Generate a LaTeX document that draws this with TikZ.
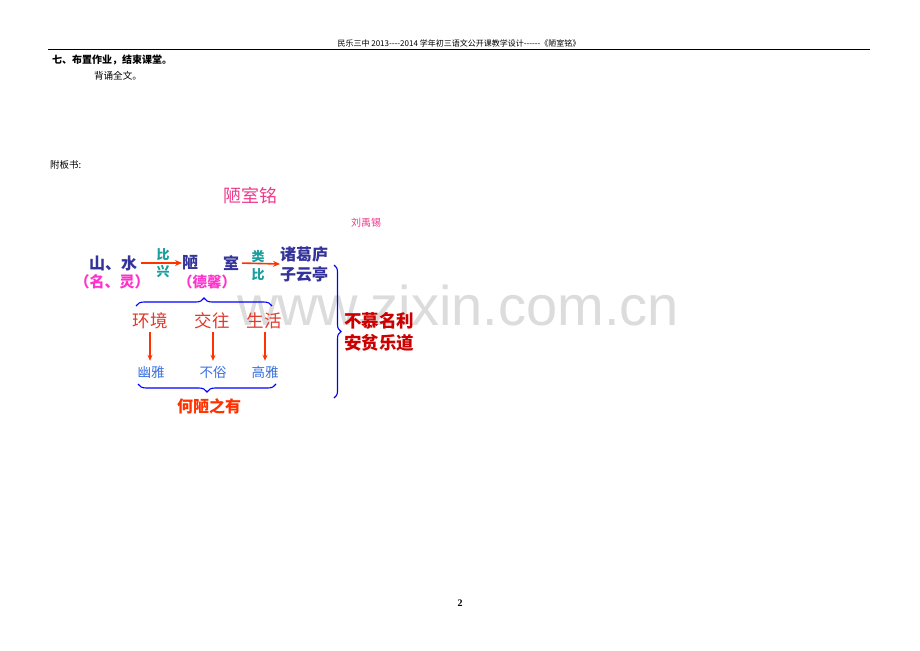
\documentclass[tikz,border=0pt]{standalone}
\usepackage{fontspec}
\setmainfont{Noto Sans CJK SC}
\newfontfamily\plainfont{Noto Sans CJK SC}
\newfontfamily\wmfont{Liberation Sans}
\newfontfamily\pnfont{Liberation Serif}
\usetikzlibrary{arrows.meta,decorations.pathreplacing}
\definecolor{navy}{HTML}{333399}
\definecolor{mag}{HTML}{FF33CC}
\definecolor{tealc}{HTML}{1A9E9E}
\definecolor{arr}{HTML}{FF3300}
\definecolor{redt}{HTML}{E23A2C}
\definecolor{bluet}{HTML}{3A6FE0}
\definecolor{darkred}{HTML}{CC0000}
\definecolor{pinkt}{HTML}{F0398A}
\definecolor{wm}{HTML}{DCDCDC}
\tikzset{
  txt/.style={inner sep=0pt, outer sep=0pt, align=center},
  harrow/.style={draw=arr, line width=1.6pt, -{Stealth[length=7pt,width=6pt]}},
  varrow/.style={draw=arr, line width=1.3pt, -{Stealth[length=6pt,width=5pt]}},
  bbrace/.style={draw=blue, line width=1.1pt, decorate},
}
\begin{document}
\begin{tikzpicture}[x=1pt,y=-1pt]
\useasboundingbox (0,0) rectangle (920,650);
\fill[white] (0,0) rectangle (920,650);
% watermark
\node[txt, text=wm, font=\wmfont\fontsize{56}{56}\selectfont, anchor=base] (wmk) at (458,325) {www.zixin.com.cn};
% header
\node[txt, font=\plainfont\fontsize{8}{8}\selectfont] (hdr) at (459,43) {民乐三中 2013----2014 学年初三语文公开课教学设计------《陋室铭》};
\coordinate (hl) at (48,49.5);
\coordinate (hr) at (870,49.5);
\draw[line width=0.8pt] (hl) -- (hr);
\node[txt, anchor=west, font=\bfseries\fontsize{10}{10}\selectfont] (t7) at (52,60) {七、布置作业，结束课堂。};
\node[txt, anchor=west, font=\fontsize{9.6}{10}\selectfont] (bs) at (94,76) {背诵全文。};
\node[txt, anchor=west, font=\fontsize{9.5}{10}\selectfont] (fb) at (50,165) {附板书:};
% title
\node[txt, text=pinkt, font=\fontsize{18}{18}\selectfont] (title) at (250,196) {陋室铭};
\node[txt, text=pinkt, font=\fontsize{10}{10}\selectfont] (author) at (366,223) {刘禹锡};
% row 1
\node[txt, text=navy, font=\bfseries\fontsize{16}{16}\selectfont] (ss) at (113,263) {山、水};
\node[txt, text=mag, font=\bfseries\fontsize{15}{15}\selectfont] (ml) at (112,282) {（名、灵）};
\node[txt, text=tealc, font=\bfseries\fontsize{13}{13}\selectfont] (bi1) at (163,255) {比};
\node[txt, text=tealc, font=\bfseries\fontsize{13}{13}\selectfont] (xing) at (163,272) {兴};
\node[txt, text=navy, font=\bfseries\fontsize{16}{16}\selectfont] (lou) at (190,263) {陋};
\node[txt, text=navy, font=\bfseries\fontsize{16}{16}\selectfont] (shi) at (231,263) {室};
\node[txt, text=mag, font=\bfseries\fontsize{14.5}{15}\selectfont] (dx) at (207,282) {（德馨）};
\node[txt, text=tealc, font=\bfseries\fontsize{13}{13}\selectfont] (lei) at (258,257) {类};
\node[txt, text=tealc, font=\bfseries\fontsize{13}{13}\selectfont] (bi2) at (258,275) {比};
\node[txt, text=navy, font=\bfseries\fontsize{16}{20}\selectfont] (zg) at (304,264) {诸葛庐\\子云亭};
\draw[harrow, shorten <=4pt] (ss.east) -- (lou.west);
\draw[harrow, shorten <=3pt] (shi.east) -- (zg.west);
% brace 1
\coordinate (b1l) at (136,306);
\coordinate (b1r) at (272,306);
\draw[bbrace, decoration={brace,amplitude=8pt}] (b1l) -- (b1r);
% row 2
\node[txt, text=redt, font=\fontsize{17.5}{18}\selectfont] (hj) at (150,321) {环境};
\node[txt, text=redt, font=\fontsize{17.5}{18}\selectfont] (jw) at (212,321) {交往};
\node[txt, text=redt, font=\fontsize{17.5}{18}\selectfont] (sh) at (264,321) {生活};
\node[txt, text=bluet, font=\fontsize{13.5}{14}\selectfont] (yy) at (151,372) {幽雅};
\node[txt, text=bluet, font=\fontsize{13.5}{14}\selectfont] (bs2) at (213,372) {不俗};
\node[txt, text=bluet, font=\fontsize{13.5}{14}\selectfont] (gy) at (265,372) {高雅};
\draw[varrow, shorten <=3pt, shorten >=5pt] (hj.south) -- (hj.south |- yy.north);
\draw[varrow, shorten <=3pt, shorten >=5pt] (jw.south -| bs2.north) -- (bs2.north);
\draw[varrow, shorten <=3pt, shorten >=5pt] (sh.south -| gy.north) -- (gy.north);
% brace 2
\coordinate (b2r) at (276,384);
\coordinate (b2l) at (138,384);
\draw[bbrace, decoration={brace,amplitude=8pt}] (b2r) -- (b2l);
\node[txt, text=arr, font=\bfseries\fontsize{16}{16}\selectfont] (hl2) at (209,406) {何陋之有};
% big brace
\coordinate (b3t) at (334,265);
\coordinate (b3b) at (334,398);
\draw[bbrace, decoration={brace,amplitude=7pt}] (b3t) -- (b3b);
\node[txt, text=darkred, font=\bfseries\fontsize{17.5}{22}\selectfont] (bm) at (379,332) {不慕名利\\安贫乐道};
% page number
\node[txt, font=\pnfont\bfseries\fontsize{10}{10}\selectfont] (pn) at (460,603) {2};
\end{tikzpicture}
\end{document}
